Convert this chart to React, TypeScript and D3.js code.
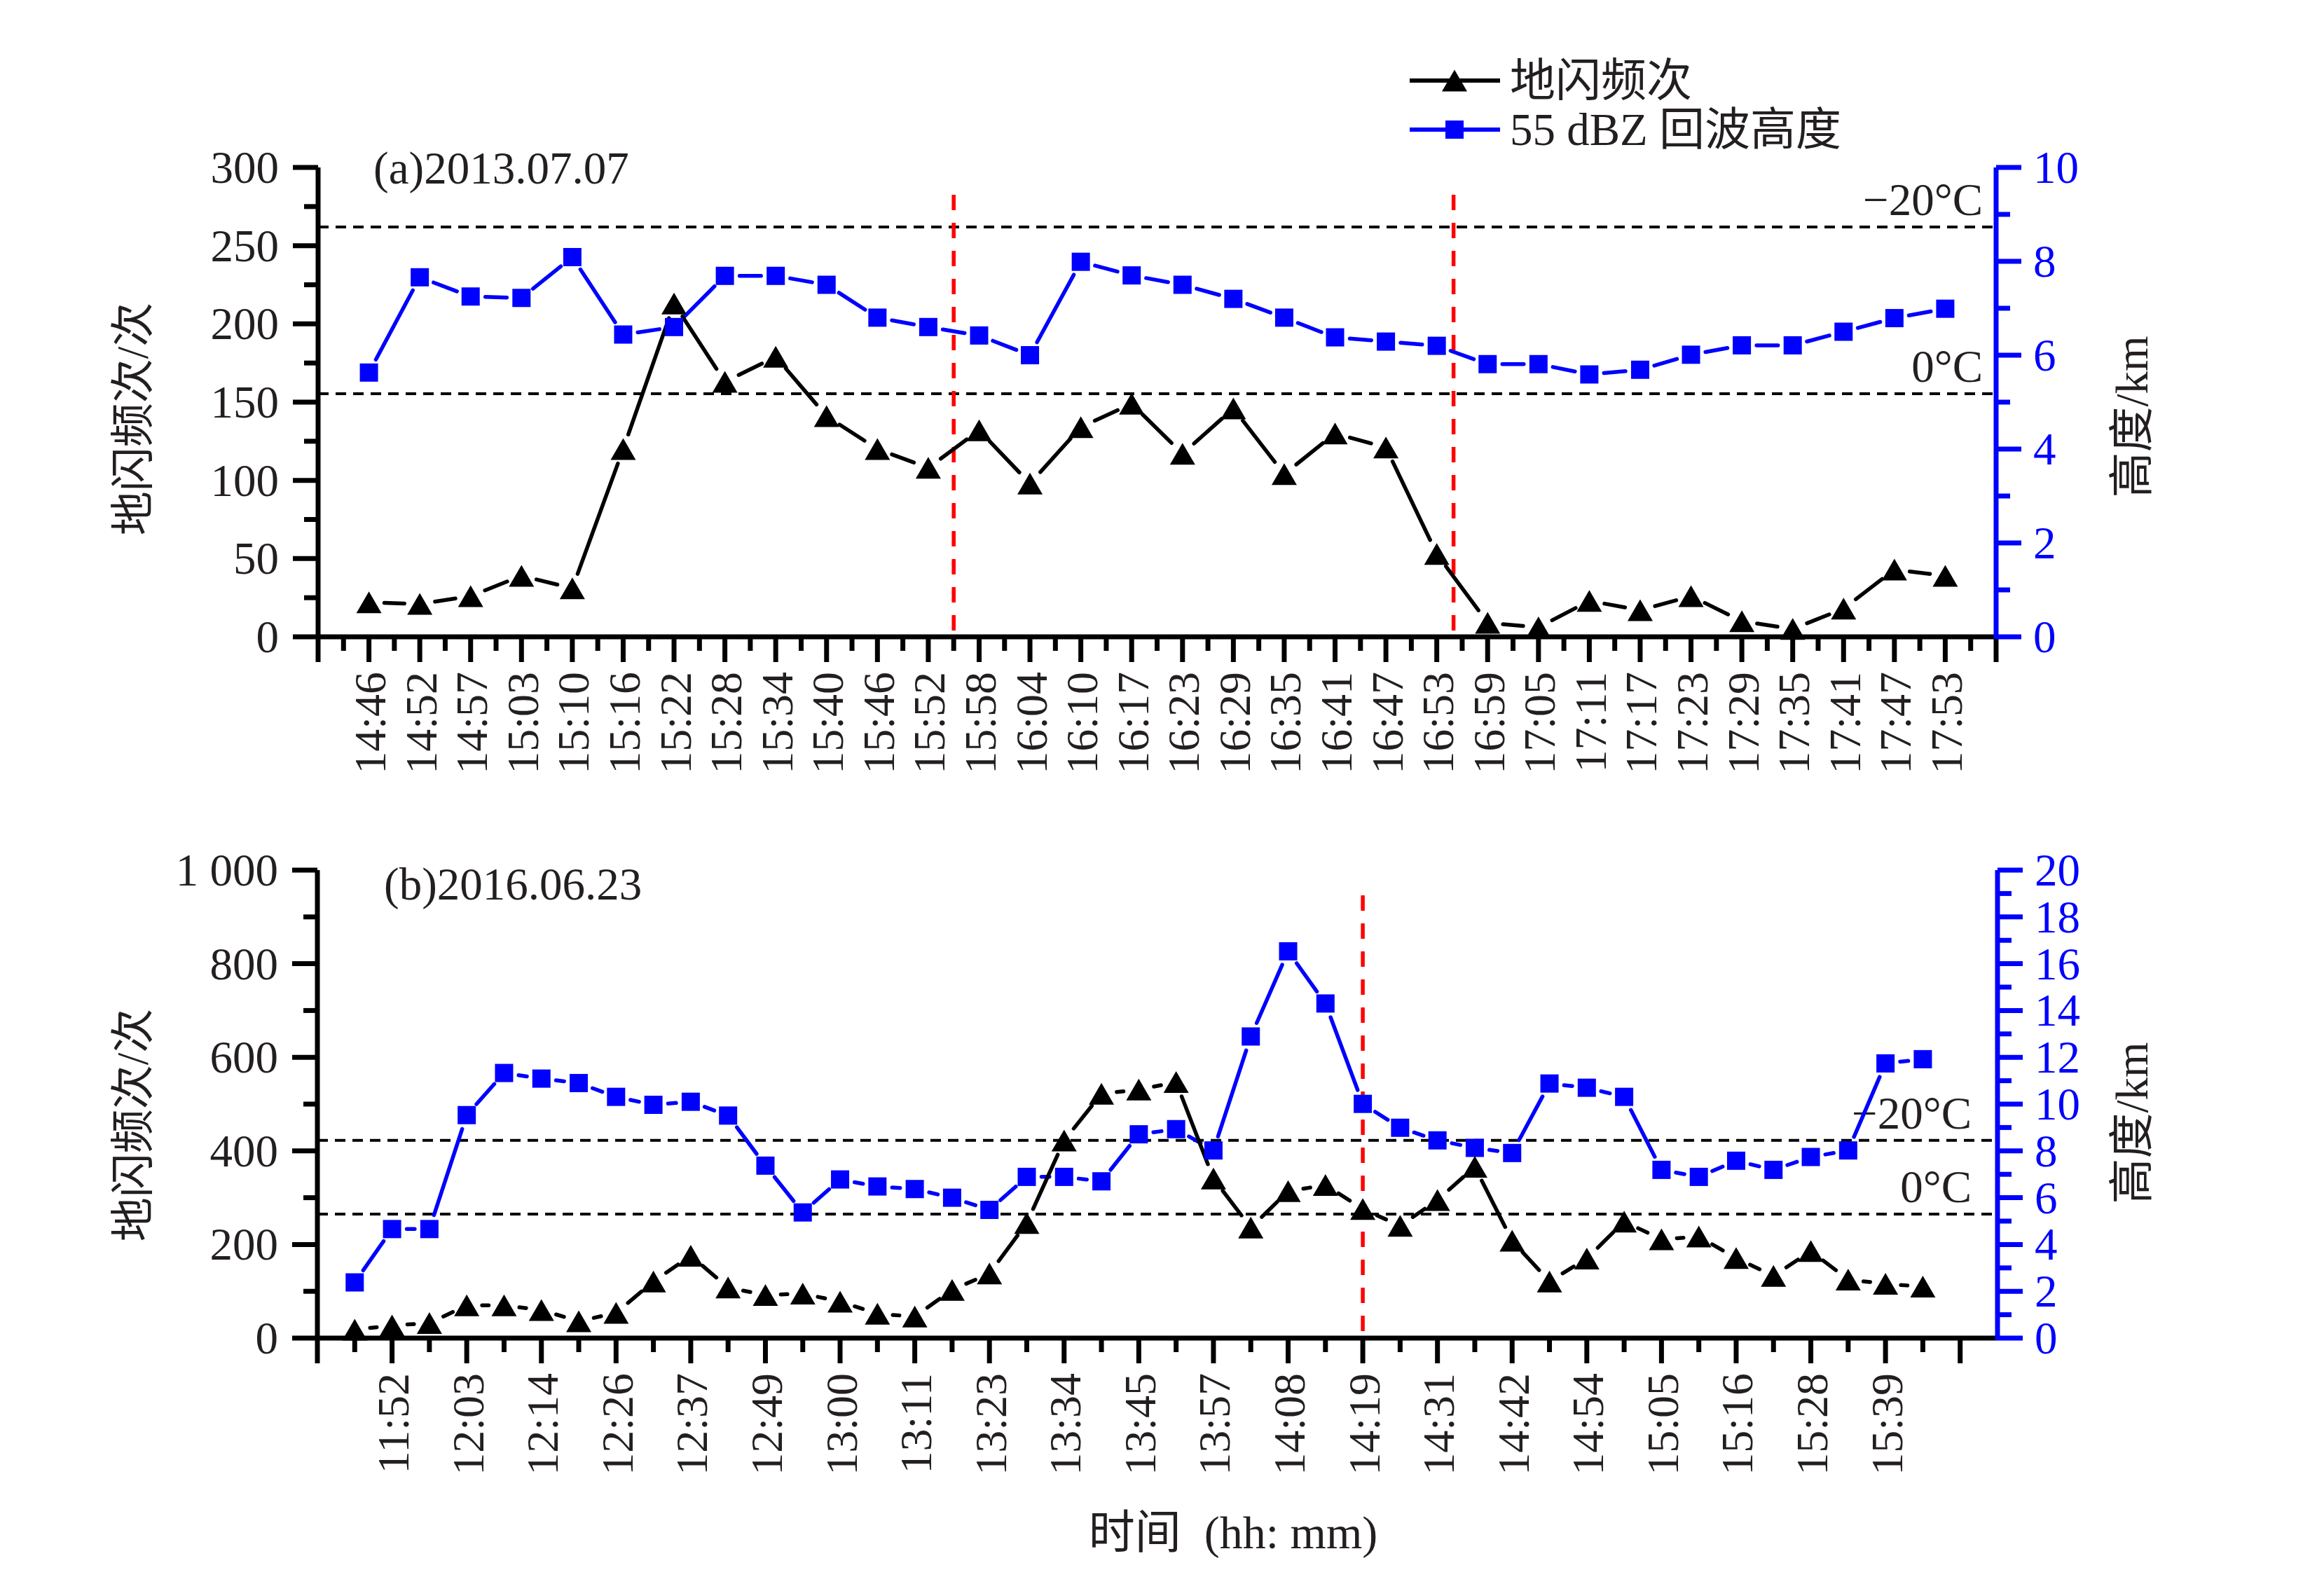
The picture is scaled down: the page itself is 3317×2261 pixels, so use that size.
import { useRef, useEffect } from 'react';
import * as d3 from 'd3';

// panel (a) 2013.07.07
const timesA = ['14:46', '14:52', '14:57', '15:03', '15:10', '15:16', '15:22', '15:28', '15:34', '15:40', '15:46', '15:52', '15:58', '16:04', '16:10', '16:17', '16:23', '16:29', '16:35', '16:41', '16:47', '16:53', '16:59', '17:05', '17:11', '17:17', '17:23', '17:29', '17:35', '17:41', '17:47', '17:53'];
const flashA = [22, 21, 26, 39, 31, 120, 213, 163, 179, 141, 120, 108, 132, 98, 134, 149, 117, 146, 104, 130, 121, 53, 9, 6, 23, 17, 26, 10, 5, 18, 43, 39];
const echoA = [5.63, 7.66, 7.25, 7.22, 8.09, 6.44, 6.6, 7.69, 7.69, 7.5, 6.8, 6.6, 6.42, 6.0, 7.99, 7.7, 7.5, 7.2, 6.8, 6.38, 6.29, 6.2, 5.81, 5.81, 5.59, 5.69, 6.01, 6.21, 6.21, 6.5, 6.79, 6.99];
const tempA = [{ label: '−20°C', km: 8.73 }, { label: '0°C', km: 5.18 }];
const redA = [11.5, 21.33];

// panel (b) 2016.06.23
const tickLabelsB = ['11:52', '12:03', '12:14', '12:26', '12:37', '12:49', '13:00', '13:11', '13:23', '13:34', '13:45', '13:57', '14:08', '14:19', '14:31', '14:42', '14:54', '15:05', '15:16', '15:28', '15:39'];
const flashB = [18, 27, 32, 70, 70, 60, 36, 54, 121, 176, 108, 92, 95, 78, 52, 46, 103, 138, 246, 422, 522, 531, 547, 341, 236, 314, 327, 276, 240, 295, 366, 208, 121, 170, 249, 211, 217, 171, 133, 186, 125, 116, 110];
const echoB = [2.38, 4.66, 4.66, 9.53, 11.33, 11.09, 10.9, 10.31, 9.97, 10.1, 9.51, 7.37, 5.37, 6.78, 6.48, 6.37, 6.0, 5.48, 6.89, 6.89, 6.7, 8.71, 8.93, 8.02, 12.89, 16.53, 14.3, 10.01, 8.99, 8.45, 8.13, 7.91, 10.88, 10.7, 10.31, 7.19, 6.89, 7.58, 7.19, 7.74, 8.02, 11.74, 11.92];
const tempB = [{ label: '−20°C', km: 8.45 }, { label: '0°C', km: 5.3 }];
const redB = [27];

const TEXT = '#231f20';
const BLUE = '#0000ff';
const SERIF = "'Liberation Serif', 'Times New Roman', 'Noto Sans CJK SC', serif";
const FS = 65;
const AXW = 7;
const SQ = 26;
const TRI_W = 36;
const TRI_H = 31;

interface Panel {
    tag: string;
    tagPos: [number, number];
    xRange: [number, number];
    xDomain: [number, number];
    top: number;
    bottom: number;
    leftMax: number;
    leftStep: number;
    rightMax: number;
    rightStep: number;
    flash: number[];
    echo: number[];
    labels: string[];
    labelIndex: (k: number) => number;
    major: number[];
    minor: number[];
    temps: { label: string; km: number }[];
    tempX: number;
    red: number[];
    redTop: number;
    ytitleY: number;
}

const panels: Panel[] = [
    {
        tag: '(a)2013.07.07',
        tagPos: [533, 262],
        xRange: [454, 2849],
        xDomain: [-1, 32],
        top: 239,
        bottom: 909,
        leftMax: 300,
        leftStep: 50,
        rightMax: 10,
        rightStep: 2,
        flash: flashA,
        echo: echoA,
        labels: timesA,
        labelIndex: (k) => k,
        major: d3.range(-1, 33, 1),
        minor: d3.range(-0.5, 32, 1),
        temps: tempA,
        tempX: 2830,
        red: redA,
        redTop: 278,
        ytitleY: 598,
    },
    {
        tag: '(b)2016.06.23',
        tagPos: [548, 1284],
        xRange: [453, 2851],
        xDomain: [-1, 44],
        top: 1242,
        bottom: 1910,
        leftMax: 1000,
        leftStep: 200,
        rightMax: 20,
        rightStep: 2,
        flash: flashB,
        echo: echoB,
        labels: tickLabelsB,
        labelIndex: (k) => 2 * k + 1,
        major: d3.range(-1, 44, 2),
        minor: d3.range(0, 43, 2),
        temps: tempB,
        tempX: 2814,
        red: redB,
        redTop: 1278,
        ytitleY: 1606,
    },
];

const triPath = (w: number, h: number) => `M0,${-h / 2}L${w / 2},${h / 2}L${-w / 2},${h / 2}Z`;

function gappedSegments(
    g: d3.Selection<SVGGElement, unknown, null, undefined>,
    pts: [number, number][],
    gap: number,
    color: string,
) {
    for (let i = 0; i < pts.length - 1; i++) {
        const [x0, y0] = pts[i];
        const [x1, y1] = pts[i + 1];
        const dx = x1 - x0;
        const dy = y1 - y0;
        const len = Math.hypot(dx, dy);
        if (len <= 2 * gap) continue;
        const ux = dx / len;
        const uy = dy / len;
        g.append('line')
            .attr('x1', x0 + ux * gap)
            .attr('y1', y0 + uy * gap)
            .attr('x2', x1 - ux * gap)
            .attr('y2', y1 - uy * gap)
            .attr('stroke', color)
            .attr('stroke-width', 5.5)
            .attr('stroke-linecap', 'round');
    }
}

function drawPanel(svg: d3.Selection<SVGSVGElement, unknown, null, undefined>, p: Panel) {
    const g = svg.append('g');
    const x = d3.scaleLinear().domain(p.xDomain).range(p.xRange);
    const yL = d3.scaleLinear().domain([0, p.leftMax]).range([p.bottom, p.top]);
    const yR = d3.scaleLinear().domain([0, p.rightMax]).range([p.bottom, p.top]);
    const [xl, xr] = p.xRange;

    // temperature reference lines
    p.temps.forEach((t) => {
        g.append('line')
            .attr('x1', xl)
            .attr('x2', xr)
            .attr('y1', yR(t.km))
            .attr('y2', yR(t.km))
            .attr('stroke', '#000')
            .attr('stroke-width', 4)
            .attr('stroke-dasharray', '15 10');
        g.append('text')
            .attr('x', p.tempX)
            .attr('y', yR(t.km) - 17)
            .attr('text-anchor', 'end')
            .attr('font-family', SERIF)
            .attr('font-size', FS)
            .attr('fill', TEXT)
            .text(t.label);
    });

    // red markers of stage boundaries
    p.red.forEach((r) => {
        g.append('line')
            .attr('x1', x(r))
            .attr('x2', x(r))
            .attr('y1', p.redTop)
            .attr('y2', p.bottom)
            .attr('stroke', '#ff0000')
            .attr('stroke-width', 5.5)
            .attr('stroke-dasharray', '22 18');
    });

    // series
    const echoPts = p.echo.map((v, i) => [x(i), yR(v)] as [number, number]);
    const flashPts = p.flash.map((v, i) => [x(i), yL(v)] as [number, number]);
    gappedSegments(g, echoPts, 21, BLUE);
    gappedSegments(g, flashPts, 22, '#000');
    g.selectAll(null)
        .data(echoPts)
        .enter()
        .append('rect')
        .attr('x', (d) => d[0] - SQ / 2)
        .attr('y', (d) => d[1] - SQ / 2)
        .attr('width', SQ)
        .attr('height', SQ)
        .attr('fill', BLUE);
    g.selectAll(null)
        .data(flashPts)
        .enter()
        .append('path')
        .attr('d', triPath(TRI_W, TRI_H))
        .attr('transform', (d) => `translate(${d[0]},${d[1]})`)
        .attr('fill', '#000');

    // x axis
    g.append('line')
        .attr('x1', xl)
        .attr('x2', xr)
        .attr('y1', p.bottom)
        .attr('y2', p.bottom)
        .attr('stroke', '#000')
        .attr('stroke-width', AXW);
    p.major.forEach((t) => {
        g.append('line')
            .attr('x1', x(t))
            .attr('x2', x(t))
            .attr('y1', p.bottom)
            .attr('y2', p.bottom + 36)
            .attr('stroke', '#000')
            .attr('stroke-width', AXW);
    });
    p.minor.forEach((t) => {
        g.append('line')
            .attr('x1', x(t))
            .attr('x2', x(t))
            .attr('y1', p.bottom)
            .attr('y2', p.bottom + 20)
            .attr('stroke', '#000')
            .attr('stroke-width', AXW);
    });
    p.labels.forEach((lab, k) => {
        const xi = x(p.labelIndex(k));
        g.append('text')
            .attr('transform', `translate(${xi + 2},${p.bottom + 50}) rotate(-90)`)
            .attr('text-anchor', 'end')
            .attr('dominant-baseline', 'central')
            .attr('font-family', SERIF)
            .attr('font-size', 64)
            .attr('fill', TEXT)
            .text(lab);
    });

    // left axis
    g.append('line')
        .attr('x1', xl)
        .attr('x2', xl)
        .attr('y1', p.top)
        .attr('y2', p.bottom + 3)
        .attr('stroke', '#000')
        .attr('stroke-width', AXW);
    const lMajor = d3.range(0, p.leftMax + 1, p.leftStep);
    const lMinor = d3.range(p.leftStep / 2, p.leftMax, p.leftStep);
    lMajor.forEach((v) => {
        g.append('line')
            .attr('x1', xl - 36)
            .attr('x2', xl)
            .attr('y1', yL(v))
            .attr('y2', yL(v))
            .attr('stroke', '#000')
            .attr('stroke-width', AXW);
        g.append('text')
            .attr('x', xl - 56)
            .attr('y', yL(v))
            .attr('text-anchor', 'end')
            .attr('dominant-baseline', 'central')
            .attr('font-family', SERIF)
            .attr('font-size', FS)
            .attr('fill', TEXT)
            .attr('xml:space', 'preserve')
            .text(v >= 1000 ? d3.format(',')(v).replace(',', ' ') : String(v));
    });
    lMinor.forEach((v) => {
        g.append('line')
            .attr('x1', xl - 20)
            .attr('x2', xl)
            .attr('y1', yL(v))
            .attr('y2', yL(v))
            .attr('stroke', '#000')
            .attr('stroke-width', AXW);
    });

    // right axis
    g.append('line')
        .attr('x1', xr)
        .attr('x2', xr)
        .attr('y1', p.top)
        .attr('y2', p.bottom + 3)
        .attr('stroke', BLUE)
        .attr('stroke-width', AXW);
    const rMajor = d3.range(0, p.rightMax + 0.001, p.rightStep);
    const rMinor = d3.range(p.rightStep / 2, p.rightMax, p.rightStep);
    rMajor.forEach((v) => {
        g.append('line')
            .attr('x1', xr)
            .attr('x2', xr + 36)
            .attr('y1', yR(v))
            .attr('y2', yR(v))
            .attr('stroke', BLUE)
            .attr('stroke-width', AXW);
        g.append('text')
            .attr('x', xr + 53)
            .attr('y', yR(v))
            .attr('dominant-baseline', 'central')
            .attr('font-family', SERIF)
            .attr('font-size', FS)
            .attr('fill', BLUE)
            .text(String(v));
    });
    rMinor.forEach((v) => {
        g.append('line')
            .attr('x1', xr)
            .attr('x2', xr + 20)
            .attr('y1', yR(v))
            .attr('y2', yR(v))
            .attr('stroke', BLUE)
            .attr('stroke-width', AXW);
    });

    // titles
    g.append('text')
        .attr('x', p.tagPos[0])
        .attr('y', p.tagPos[1])
        .attr('font-family', SERIF)
        .attr('font-size', FS)
        .attr('fill', TEXT)
        .text(p.tag);
    g.append('text')
        .attr('transform', `translate(190,${p.ytitleY}) rotate(-90)`)
        .attr('text-anchor', 'middle')
        .attr('dominant-baseline', 'central')
        .attr('font-family', SERIF)
        .attr('font-size', 63)
        .attr('fill', TEXT)
        .text('地闪频次/次');
    g.append('text')
        .attr('transform', `translate(3043,${p.ytitleY - 3}) rotate(-90)`)
        .attr('text-anchor', 'middle')
        .attr('dominant-baseline', 'central')
        .attr('font-family', SERIF)
        .attr('font-size', FS)
        .attr('fill', TEXT)
        .text('高度/km');
}

export default function App() {
    const ref = useRef<SVGSVGElement>(null);

    useEffect(() => {
        if (!ref.current) return;
        const svg = d3.select(ref.current);
        svg.selectAll('*').remove();
        svg.append('rect').attr('width', 3317).attr('height', 2261).attr('fill', '#fff');

        panels.forEach((p) => drawPanel(svg, p));

        // legend
        const legend = [
            { label: '地闪频次', color: '#000', shape: 'tri', y: 115 },
            { label: '55 dBZ 回波高度', color: BLUE, shape: 'sq', y: 185 },
        ];
        legend.forEach((l) => {
            svg.append('line')
                .attr('x1', 2012)
                .attr('x2', 2141)
                .attr('y1', l.y)
                .attr('y2', l.y)
                .attr('stroke', l.color)
                .attr('stroke-width', 6);
            if (l.shape === 'tri') {
                svg.append('path')
                    .attr('d', triPath(TRI_W, TRI_H))
                    .attr('transform', `translate(2076,${l.y})`)
                    .attr('fill', l.color);
            } else {
                svg.append('rect')
                    .attr('x', 2076 - SQ / 2)
                    .attr('y', l.y - SQ / 2)
                    .attr('width', SQ)
                    .attr('height', SQ)
                    .attr('fill', l.color);
            }
            svg.append('text')
                .attr('x', 2155)
                .attr('y', l.y)
                .attr('dominant-baseline', 'central')
                .attr('font-family', SERIF)
                .attr('font-size', FS)
                .attr('fill', TEXT)
                .attr('xml:space', 'preserve')
                .text(l.label);
        });

        // x axis title
        svg.append('text')
            .attr('x', 1760)
            .attr('y', 2210)
            .attr('text-anchor', 'middle')
            .attr('font-family', SERIF)
            .attr('font-size', 66)
            .attr('fill', TEXT)
            .attr('xml:space', 'preserve')
            .text('时间  (hh: mm)');
    }, []);

    return (
        <svg
            ref={ref}
            width={3317}
            height={2261}
            style={{ position: 'absolute', left: 0, top: 0, background: '#fff' }}
        />
    );
}
